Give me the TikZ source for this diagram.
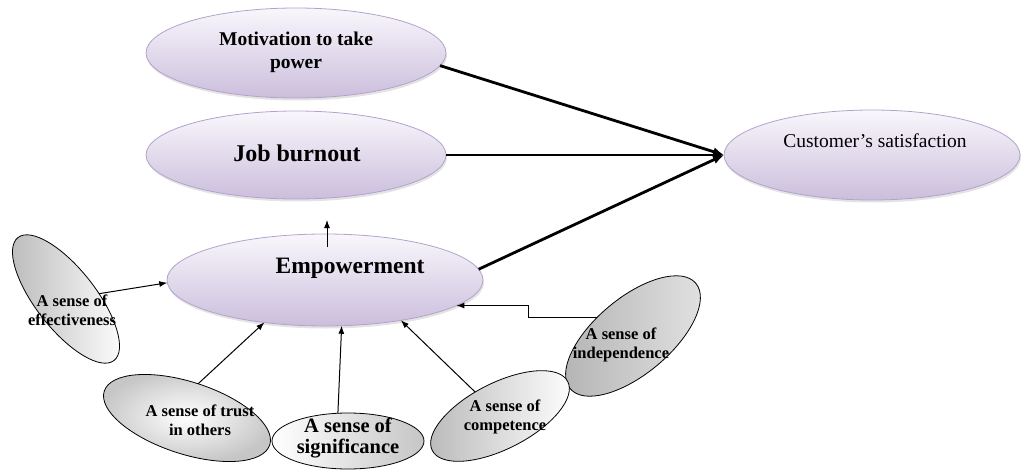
\documentclass[tikz,border=0pt]{standalone}
\usepackage{fontspec}
\setmainfont{Liberation Serif}
\usetikzlibrary{arrows.meta,shadows,calc,shapes.geometric}
\definecolor{pborder}{HTML}{B3A3CB}
\definecolor{ptop}{HTML}{F9F7FC}
\definecolor{pbot}{HTML}{CBBEDC}
\begin{document}
\begin{tikzpicture}[x=1pt,y=-1pt,
  pell/.style={ellipse, draw=pborder, line width=0.8pt, top color=ptop, bottom color=pbot,
    inner sep=0pt, outer sep=0pt,
    drop shadow={shadow xshift=1pt, shadow yshift=-2.5pt, opacity=0.22}},
  gbase/.style={ellipse, draw=black, line width=0.8pt, inner sep=0pt, outer sep=0pt},
  gell/.style={gbase, left color=gray!55, right color=white},
  rgell/.style={gbase, inner color=white, outer color=gray!45},
  sgell/.style={gbase, left color=white, right color=gray!45},
  dgell/.style={gbase, left color=gray!60, right color=gray!22},
  barr/.style={-{Latex[length=11pt,width=9pt]}, line width=2.8pt},
  tarr/.style={-{Latex[length=8pt,width=6pt]}, line width=1pt},
  lbl/.style={align=center, inner sep=0pt},
  small/.style={lbl, font=\bfseries\fontsize{16.5}{19}\selectfont}
]
\useasboundingbox (0,0) rectangle (1021,471);

% main (purple) ellipses
\node[pell, minimum width=300pt, minimum height=90pt] (mot) at (296,53) {};
\node[pell, minimum width=300pt, minimum height=88pt] (job) at (296,155) {};
\node[pell, minimum width=316pt, minimum height=92pt] (emp) at (325,280) {};
\node[pell, minimum width=296pt, minimum height=90pt] (cust) at (872,155) {};

\node[lbl, font=\bfseries\fontsize{19.5}{23}\selectfont] (motl) at (296,52) {Motivation to take\\power};
\node[lbl, font=\bfseries\fontsize{24}{28}\selectfont] (jobl) at (297,153) {Job burnout};
\node[lbl, font=\bfseries\fontsize{23.5}{27}\selectfont] (empl) at (350,268) {Empowerment};
\node[lbl, font=\fontsize{19.5}{23}\selectfont] (custl) at (875,141) {Customer’s satisfaction};

% gray ellipses
\node[gell, minimum width=156pt, minimum height=60pt, rotate=-52] (eff) at (66,299) {};
\node[small] (effl) at (72,310) {A sense of\\effectiveness};

\node[rgell, minimum width=174pt, minimum height=72pt, rotate=-18] (trust) at (187,418) {};
\node[small] (trustl) at (200,420) {A sense of trust\\in others};

\node[sgell, minimum width=152pt, minimum height=56pt] (sig) at (348,441) {};
\node[lbl, font=\bfseries\fontsize{20.5}{21}\selectfont] (sigl) at (348,438) {A sense of\\significance};

\node[dgell, minimum width=164pt, minimum height=76pt, rotate=40] (ind) at (633,336) {};
\node[small] (indl) at (621,345) {A sense of\\independence};

\node[gell, minimum width=152pt, minimum height=66pt, rotate=27] (comp) at (500,416) {};
\node[small] (compl) at (505,417) {A sense of\\competence};

% connectors
\draw[barr] (mot.-5) -- (cust.west);
\draw[barr] (job.east) -- (cust.west);
\draw[barr] (emp.4) -- (cust.west);

\draw[tarr] ($(emp.north)+(2,13)$) -- ($(job.south)+(31,21)$);
\draw[tarr] (eff) -- (emp.181);
\draw[tarr] (trust.north) -- (emp.215);
\draw[tarr] (sig.110) -- (emp.290);
\draw[tarr] (comp) -- (emp.-28);
\draw[tarr] (ind.112) -- ++(-69,0) |- (emp.-11);
\end{tikzpicture}
\end{document}
